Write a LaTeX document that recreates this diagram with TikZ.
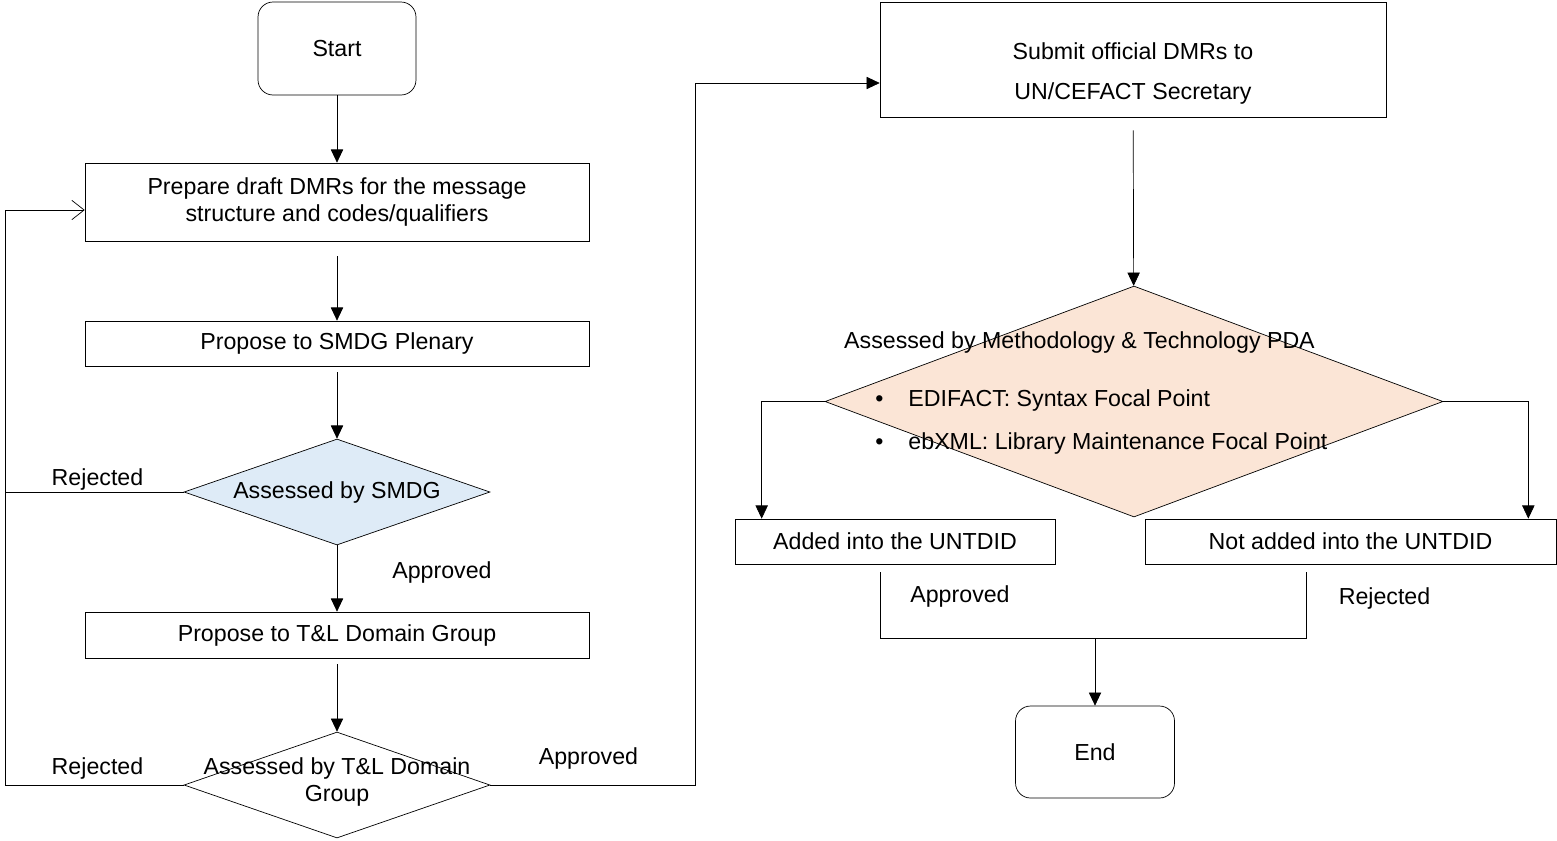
\documentclass[tikz,border=0pt]{standalone}
\usepackage{fontspec}
\setmainfont{Liberation Sans}
\usetikzlibrary{shapes.geometric,arrows.meta}
\definecolor{smdgblue}{RGB}{222,235,247}
\definecolor{pdapeach}{RGB}{251,229,214}
\tikzset{
x=0.02cm, y=-0.02cm,
line width=1.05pt,
every node/.style={font=\fontsize{13.2}{15.6}\selectfont},
procbox/.style={draw, rectangle, inner sep=0pt, align=center},
termbox/.style={draw, rectangle, rounded corners=0.3cm, inner sep=0pt},
decide/.style={draw, diamond, inner sep=0pt},
lbl/.style={inner sep=0pt},
arr/.style={-{Triangle[length=7.5pt,width=7pt]}},
back/.style={-{Straight Barb[length=7pt,width=11pt]}},
}

\begin{document}
\begin{tikzpicture}
        \useasboundingbox (0,0) rectangle (1557,840);

        \node[termbox, minimum width=3.16cm, minimum height=1.86cm] (start) at (337,48.5) {Start};
        \node[procbox, minimum width=10.08cm, minimum height=1.56cm] (prep) at (337,202) {Prepare draft DMRs for the message\\structure and codes/qualifiers};
        \node[procbox, minimum width=10.08cm, minimum height=0.9cm] (plen) at (337,343.5) {Propose to SMDG Plenary};
        \node[decide, fill=smdgblue, minimum width=6.12cm, minimum height=2.12cm] (smdg) at (337,492) {};
        \node[lbl] (smdgtxt) at (337,492) {Assessed by SMDG};
        \node[procbox, minimum width=10.08cm, minimum height=0.92cm] (tlprop) at (337,635) {Propose to T\&L Domain Group};
        \node[decide, minimum width=6.12cm, minimum height=2.12cm] (tl) at (337,785) {};
        \node[lbl, align=center] (tltxt) at (337,782) {Assessed by T\&L Domain\\Group};

        \node[procbox, minimum width=10.12cm, minimum height=2.3cm] (submit) at (1133,59.5) {};
        \node[lbl, align=center] (submittxt) at (1133,73.5) {Submit official DMRs to\\[0.27cm]UN/CEFACT Secretary};
        \node[decide, fill=pdapeach, minimum width=12.36cm, minimum height=4.62cm] (pda) at (1134,401.5) {};
        \node[lbl] (pdatitle) at (1079.5,342) {Assessed by Methodology \& Technology PDA};
        \node[lbl, anchor=west] (pdab1) at (875,400) {\textbullet\hspace{0.5cm}EDIFACT: Syntax Focal Point};
        \node[lbl, anchor=west] (pdab2) at (875,443) {\textbullet\hspace{0.5cm}ebXML: Library Maintenance Focal Point};
        \node[procbox, minimum width=6.4cm, minimum height=0.9cm] (added) at (895,541.5) {Added into the UNTDID};
        \node[procbox, minimum width=8.22cm, minimum height=0.9cm] (notadd) at (1350.5,541.5) {Not added into the UNTDID};
        \node[termbox, minimum width=3.18cm, minimum height=1.84cm] (end) at (1095,752) {End};

        \node[lbl] (rej1) at (97.5,479) {Rejected};
        \node[lbl] (rej2) at (97.5,768) {Rejected};
        \node[lbl] (app1) at (442,572) {Approved};
        \node[lbl] (app2) at (588.5,758) {Approved};
        \node[lbl] (app3) at (960,596) {Approved};
        \node[lbl] (rej3) at (1384.5,598) {Rejected};

        \coordinate (fbx) at (5,0);
        \coordinate (apx) at (695,0);
        \coordinate (ma) at (880,572);
        \coordinate (mb) at (1306,572);
        \coordinate (mj) at (1095,638);

        \draw[arr] (start) -- (prep);
        \draw[arr, shorten <=0.3cm] (prep) -- (plen);
        \draw[arr, shorten <=0.12cm] (plen) -- (smdg);
        \draw[arr] (smdg) -- (tlprop);
        \draw[arr, shorten <=0.12cm] (tlprop) -- (tl);
        \draw (smdg.west) -- (smdg.west -| fbx);
        \draw[back] (tl.west) -- (tl.west -| fbx) |- ([yshift=-0.16cm]prep.west);
        \draw[arr] (tl.east) -- (tl.east -| apx) |- ([yshift=-0.47cm]submit.west);
        \draw[arr, shorten <=0.26cm] (submit) -- (pda);
        \draw[arr] (pda.west) -| ([xshift=0.54cm]added.north west);
        \draw[arr] (pda.east) -| ([xshift=-0.56cm]notadd.north east);
        \draw (ma) |- (mj) -| (mb);
        \draw[arr] (mj) -- (end);
    \end{tikzpicture}
\end{document}
